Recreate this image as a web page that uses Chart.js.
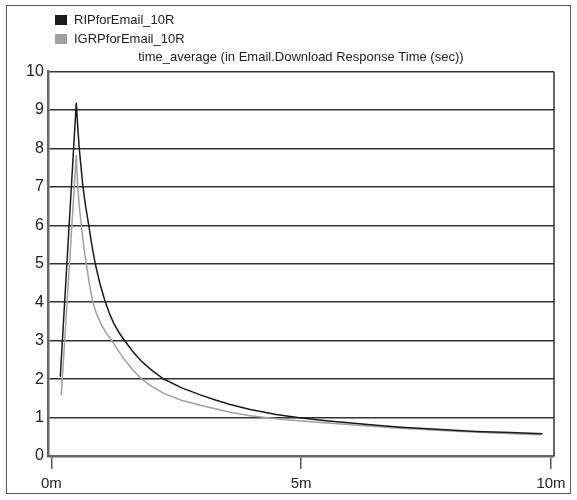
<!DOCTYPE html>
<html>
<head>
<meta charset="utf-8">
<script src="https://cdn.jsdelivr.net/npm/chart.js@4/dist/chart.umd.min.js"></script>
<style>
  html, body { margin: 0; padding: 0; background: #fff; }
  #wrap { position: relative; width: 577px; height: 500px; }
  #frame { position: absolute; left: 6px; top: 5px; width: 563px; height: 487px; border: 1.5px solid #555; pointer-events: none; }
  canvas { position: absolute; left: 0; top: 0; }
</style>
</head>
<body>
<div id="wrap">
  <canvas id="chart" width="577" height="500"></canvas>
  <div id="frame"></div>
</div>
<script>
// minutes
const ripTimes = [0.18, 0.50, 0.53, 0.56, 0.60, 0.63, 0.68, 0.75, 0.81, 0.88, 0.97, 1.07, 1.16, 1.25, 1.36, 1.48, 1.63, 1.8, 2.0, 2.24, 2.6, 2.98, 3.3, 3.58, 3.98, 4.5, 5.0, 5.5, 6.0, 6.5, 7.0, 7.8, 8.5, 9.2, 9.83];
const ripValues = [2.06, 9.19, 8.55, 8.0, 7.45, 7.05, 6.55, 6.0, 5.5, 5.0, 4.5, 4.05, 3.72, 3.45, 3.2, 2.98, 2.72, 2.47, 2.24, 2.01, 1.78, 1.59, 1.45, 1.34, 1.21, 1.08, 0.99, 0.92, 0.86, 0.80, 0.75, 0.69, 0.64, 0.61, 0.58];

const igrpTimes = [0.20, 0.50, 0.53, 0.56, 0.60, 0.65, 0.70, 0.76, 0.83, 0.90, 1.0, 1.1, 1.21, 1.35, 1.5, 1.65, 1.81, 2.0, 2.25, 2.6, 2.98, 3.3, 3.58, 3.98, 4.5, 5.0, 6.0, 7.0, 8.0, 9.0, 9.8];
const igrpValues = [1.58, 7.83, 7.0, 6.5, 6.0, 5.45, 5.0, 4.5, 4.0, 3.72, 3.42, 3.2, 3.0, 2.72, 2.45, 2.21, 2.0, 1.82, 1.63, 1.45, 1.32, 1.22, 1.14, 1.05, 0.97, 0.91, 0.81, 0.72, 0.65, 0.59, 0.55];

const seriesNames = ['RIPforEmail_10R', 'IGRPforEmail_10R'];
const seriesColors = ['#1a1a1a', '#a0a0a0'];
const xTicks = [0, 5, 10];
const chartTitle = 'time_average (in Email.Download Response Time (sec))';

function toPoints(ts, vs) {
    return ts.map((t, i) => ({ x: t, y: vs[i] }));
}

// legend stacked top-left, plus the right-hand border of the plot
const extras = {
    id: 'extras',
    afterDraw(chart) {
        const ctx = chart.ctx;
        const a = chart.chartArea;
        ctx.save();
        ctx.strokeStyle = '#333';
        ctx.lineWidth = 1.5;
        ctx.beginPath();
        ctx.moveTo(a.right, a.top);
        ctx.lineTo(a.right, a.bottom);
        ctx.stroke();

        ctx.font = '13px "Liberation Sans", Arial, sans-serif';
        ctx.textBaseline = 'middle';
        chart.data.datasets.forEach((ds, i) => {
            const y = 20 + i * 19;
            ctx.fillStyle = ds.borderColor;
            ctx.fillRect(55, y - 5, 12, 10);
            ctx.fillStyle = '#222';
            ctx.fillText(ds.label, 74, y);
        });
        ctx.restore();
    }
};

new Chart(document.getElementById('chart').getContext('2d'), {
    type: 'line',
    data: {
        datasets: [
            { label: seriesNames[0], data: toPoints(ripTimes, ripValues), borderColor: seriesColors[0], backgroundColor: seriesColors[0] },
            { label: seriesNames[1], data: toPoints(igrpTimes, igrpValues), borderColor: seriesColors[1], backgroundColor: seriesColors[1] }
        ]
    },
    options: {
        responsive: false,
        animation: false,
        layout: { padding: { top: 50, left: 22, right: 23, bottom: 1 } },
        elements: {
            line: { borderWidth: 1.5, tension: 0, fill: false },
            point: { radius: 0 }
        },
        plugins: {
            legend: { display: false },
            tooltip: { enabled: false },
            title: {
                display: true,
                fullSize: false,
                text: chartTitle,
                color: '#222',
                font: { family: '"Liberation Sans", Arial, sans-serif', size: 13, weight: 'normal' },
                padding: { top: 0, bottom: 6 }
            }
        },
        scales: {
            x: {
                type: 'linear',
                min: -0.07,
                max: 10.06,
                afterBuildTicks: (axis) => { axis.ticks = xTicks.map(v => ({ value: v })); },
                ticks: {
                    callback: (v) => v + 'm',
                    color: '#222',
                    font: { family: '"Liberation Sans", Arial, sans-serif', size: 15 },
                    padding: 6,
                    maxRotation: 0
                },
                grid: { drawOnChartArea: false, drawTicks: true, tickLength: 13, color: '#555', lineWidth: 1.5 },
                border: { color: '#666', width: 2.5 }
            },
            y: {
                min: 0,
                max: 10,
                ticks: {
                    stepSize: 1,
                    color: '#222',
                    font: { family: '"Liberation Sans", Arial, sans-serif', size: 16 },
                    padding: 4
                },
                grid: { drawTicks: false, color: '#333', lineWidth: 1.5 },
                border: { color: '#666', width: 2.5 }
            }
        }
    },
    plugins: [extras]
});
</script>
</body>
</html>
